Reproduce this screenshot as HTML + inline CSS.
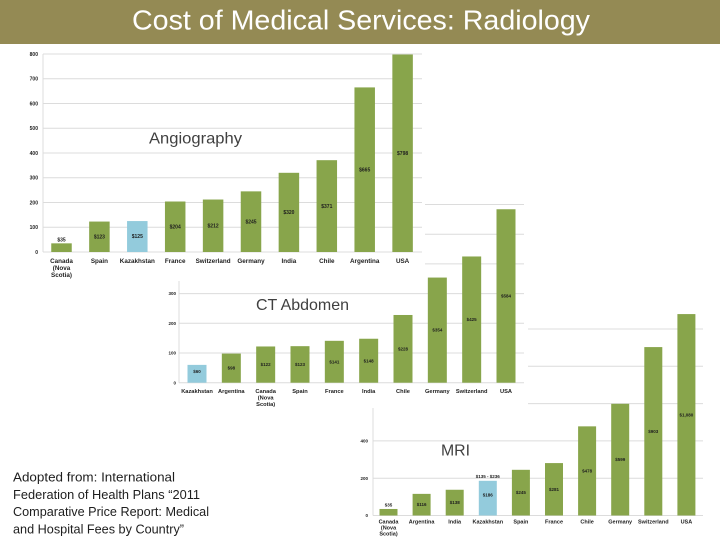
<!DOCTYPE html>
<html>
<head>
<meta charset="utf-8">
<style>
html,body{margin:0;padding:0;background:#fff;}
svg{display:block;}
.t{font-family:"Liberation Sans",sans-serif;}
.ax{font-family:"Liberation Sans",sans-serif;font-weight:bold;fill:#1e1e1e;}
</style>
</head>
<body>
<svg width="720" height="540" viewBox="0 0 720 540" xmlns="http://www.w3.org/2000/svg">
<rect x="0" y="0" width="720" height="540" fill="#ffffff"/>

<!-- ===== MRI chart (bottom layer) ===== -->
<g>
<rect x="360" y="300" width="360" height="240" fill="#fff"/>
<g stroke="#dcdcdc" stroke-width="1">
<line x1="373" y1="515.5" x2="703" y2="515.5"/>
<line x1="373" y1="478.2" x2="703" y2="478.2"/>
<line x1="373" y1="440.9" x2="703" y2="440.9"/>
<line x1="373" y1="403.6" x2="703" y2="403.6"/>
<line x1="373" y1="366.3" x2="703" y2="366.3"/>
<line x1="373" y1="329" x2="703" y2="329"/>
<line x1="373" y1="408" x2="373" y2="515.5"/>
</g>
<g class="ax" font-size="4.5" text-anchor="end">
<text x="368" y="517">0</text>
<text x="368" y="479.8">200</text>
<text x="368" y="442.5">400</text>
</g>
<g fill="#88a54b">
<rect x="379.5" y="508.97" width="18" height="6.53"/>
<rect x="412.6" y="493.87" width="18" height="21.63"/>
<rect x="445.7" y="489.76" width="18" height="25.74"/>
<rect x="478.8" y="480.81" width="18" height="34.69" fill="#93cbdc"/>
<rect x="511.9" y="469.81" width="18" height="45.69"/>
<rect x="545" y="463.09" width="18" height="52.41"/>
<rect x="578.1" y="426.35" width="18" height="89.15"/>
<rect x="611.2" y="403.79" width="18" height="111.71"/>
<rect x="644.3" y="347.09" width="18" height="168.41"/>
<rect x="677.4" y="314.08" width="18" height="201.42"/>
</g>
<g class="ax" font-size="4.5" text-anchor="middle">
<text x="388.5" y="506.5">$35</text>
<text x="421.6" y="506.2">$116</text>
<text x="454.7" y="504.1">$138</text>
<text x="487.8" y="478.2">$135 - $236</text>
<text x="487.8" y="496.6">$186</text>
<text x="520.9" y="494.2">$245</text>
<text x="554" y="490.8">$281</text>
<text x="587.1" y="472.4">$478</text>
<text x="620.2" y="461.1">$599</text>
<text x="653.3" y="432.8">$903</text>
<text x="686.4" y="416.3">$1,080</text>
</g>
<g class="ax" font-size="5.5" text-anchor="middle">
<text x="388.5" y="523.7">Canada</text>
<text x="388.5" y="529.5">(Nova</text>
<text x="388.5" y="535.3">Scotia)</text>
<text x="421.6" y="523.7">Argentina</text>
<text x="454.7" y="523.7">India</text>
<text x="487.8" y="523.7">Kazakhstan</text>
<text x="520.9" y="523.7">Spain</text>
<text x="554" y="523.7">France</text>
<text x="587.1" y="523.7">Chile</text>
<text x="620.2" y="523.7">Germany</text>
<text x="653.3" y="523.7">Switzerland</text>
<text x="686.4" y="523.7">USA</text>
</g>
<text class="t" x="441" y="455.5" font-size="15.5" fill="#404040" textLength="29" lengthAdjust="spacingAndGlyphs">MRI</text>
</g>

<!-- ===== CT Abdomen chart (middle layer) ===== -->
<g>
<rect x="160" y="198" width="368" height="210" fill="#fff"/>
<g stroke="#dcdcdc" stroke-width="1">
<line x1="179" y1="382.7" x2="524" y2="382.7"/>
<line x1="179" y1="353" x2="524" y2="353"/>
<line x1="179" y1="323.3" x2="524" y2="323.3"/>
<line x1="179" y1="293.6" x2="524" y2="293.6"/>
<line x1="179" y1="263.9" x2="524" y2="263.9"/>
<line x1="179" y1="234.2" x2="524" y2="234.2"/>
<line x1="179" y1="204.5" x2="524" y2="204.5"/>
<line x1="179" y1="281" x2="179" y2="382.7"/>
</g>
<g class="ax" font-size="4.5" text-anchor="end">
<text x="176" y="384.3">0</text>
<text x="176" y="354.6">100</text>
<text x="176" y="324.9">200</text>
<text x="176" y="295.2">300</text>
</g>
<g fill="#88a54b">
<rect x="187.5" y="364.88" width="19" height="17.82" fill="#93cbdc"/>
<rect x="221.83" y="353.59" width="19" height="29.11"/>
<rect x="256.17" y="346.47" width="19" height="36.23"/>
<rect x="290.5" y="346.17" width="19" height="36.53"/>
<rect x="324.83" y="340.82" width="19" height="41.88"/>
<rect x="359.17" y="338.74" width="19" height="43.96"/>
<rect x="393.5" y="314.98" width="19" height="67.72"/>
<rect x="427.83" y="277.56" width="19" height="105.14"/>
<rect x="462.17" y="256.47" width="19" height="126.23"/>
<rect x="496.5" y="209.25" width="19" height="173.45"/>
</g>
<g class="ax" font-size="4.5" text-anchor="middle">
<text x="197" y="373.2">$60</text>
<text x="231.33" y="369.7">$98</text>
<text x="265.67" y="366.2">$122</text>
<text x="300" y="366">$123</text>
<text x="334.33" y="363.4">$141</text>
<text x="368.67" y="362.3">$148</text>
<text x="403" y="350.4">$228</text>
<text x="437.33" y="331.7">$354</text>
<text x="471.67" y="321.2">$425</text>
<text x="506" y="297.6">$584</text>
</g>
<g class="ax" font-size="5.7" text-anchor="middle">
<text x="197" y="393">Kazakhstan</text>
<text x="231.33" y="393">Argentina</text>
<text x="265.67" y="393">Canada</text>
<text x="265.67" y="399.7">(Nova</text>
<text x="265.67" y="406.2">Scotia)</text>
<text x="300" y="393">Spain</text>
<text x="334.33" y="393">France</text>
<text x="368.67" y="393">India</text>
<text x="403" y="393">Chile</text>
<text x="437.33" y="393">Germany</text>
<text x="471.67" y="393">Switzerland</text>
<text x="506" y="393">USA</text>
</g>
<text class="t" x="256" y="310" font-size="16" fill="#404040" textLength="93" lengthAdjust="spacingAndGlyphs">CT Abdomen</text>
</g>

<!-- ===== Angiography chart (top layer) ===== -->
<g>
<rect x="0" y="44" width="425" height="237" fill="#fff"/>
<g stroke="#dcdcdc" stroke-width="1">
<line x1="43" y1="252" x2="422" y2="252"/>
<line x1="43" y1="227.25" x2="422" y2="227.25"/>
<line x1="43" y1="202.5" x2="422" y2="202.5"/>
<line x1="43" y1="177.75" x2="422" y2="177.75"/>
<line x1="43" y1="153" x2="422" y2="153"/>
<line x1="43" y1="128.25" x2="422" y2="128.25"/>
<line x1="43" y1="103.5" x2="422" y2="103.5"/>
<line x1="43" y1="78.75" x2="422" y2="78.75"/>
<line x1="43" y1="54" x2="422" y2="54"/>
<line x1="43" y1="54" x2="43" y2="252"/>
</g>
<g class="ax" font-size="5" text-anchor="end">
<text x="38" y="253.8">0</text>
<text x="38" y="229">100</text>
<text x="38" y="204.3">200</text>
<text x="38" y="179.5">300</text>
<text x="38" y="154.8">400</text>
<text x="38" y="130">500</text>
<text x="38" y="105.3">600</text>
<text x="38" y="80.5">700</text>
<text x="38" y="55.8">800</text>
</g>
<g fill="#88a54b">
<rect x="51.25" y="243.34" width="20.5" height="8.66"/>
<rect x="89.15" y="221.56" width="20.5" height="30.44"/>
<rect x="127.05" y="221.06" width="20.5" height="30.94" fill="#93cbdc"/>
<rect x="164.95" y="201.51" width="20.5" height="50.49"/>
<rect x="202.85" y="199.53" width="20.5" height="52.47"/>
<rect x="240.75" y="191.36" width="20.5" height="60.64"/>
<rect x="278.65" y="172.8" width="20.5" height="79.2"/>
<rect x="316.55" y="160.18" width="20.5" height="91.82"/>
<rect x="354.45" y="87.41" width="20.5" height="164.59"/>
<rect x="392.35" y="54.5" width="20.5" height="197.5"/>
</g>
<g class="ax" font-size="5" text-anchor="middle">
<text x="61.5" y="241.7">$35</text>
<text x="99.4" y="238.5">$123</text>
<text x="137.3" y="238.2">$125</text>
<text x="175.2" y="228.5">$204</text>
<text x="213.1" y="227.5">$212</text>
<text x="251" y="223.4">$245</text>
<text x="288.9" y="214.1">$320</text>
<text x="326.8" y="207.8">$371</text>
<text x="364.7" y="171.4">$665</text>
<text x="402.6" y="155">$798</text>
</g>
<g class="ax" font-size="6.3" text-anchor="middle">
<text x="61.5" y="262.8">Canada</text>
<text x="61.5" y="269.8">(Nova</text>
<text x="61.5" y="276.8">Scotia)</text>
<text x="99.4" y="262.8">Spain</text>
<text x="137.3" y="262.8">Kazakhstan</text>
<text x="175.2" y="262.8">France</text>
<text x="213.1" y="262.8">Switzerland</text>
<text x="251" y="262.8">Germany</text>
<text x="288.9" y="262.8">India</text>
<text x="326.8" y="262.8">Chile</text>
<text x="364.7" y="262.8">Argentina</text>
<text x="402.6" y="262.8">USA</text>
</g>
<text class="t" x="149" y="143.3" font-size="16" fill="#404040" textLength="93" lengthAdjust="spacingAndGlyphs">Angiography</text>
</g>

<!-- ===== Title band ===== -->
<rect x="0" y="0" width="720" height="44" fill="#948a54"/>
<text class="t" x="132" y="29.5" font-size="28" fill="#ffffff" textLength="458" lengthAdjust="spacingAndGlyphs">Cost of Medical Services: Radiology</text>

<!-- ===== Footnote ===== -->
<g class="t" font-size="13" fill="#1e1e1e">
<text x="13" y="481.7" textLength="162" lengthAdjust="spacingAndGlyphs">Adopted from:  International</text>
<text x="13" y="499" textLength="187" lengthAdjust="spacingAndGlyphs">Federation of Health  Plans “2011</text>
<text x="13" y="516.2" textLength="196" lengthAdjust="spacingAndGlyphs">Comparative Price Report: Medical</text>
<text x="13" y="533.4" textLength="171" lengthAdjust="spacingAndGlyphs">and Hospital Fees by Country”</text>
</g>
</svg>
</body>
</html>
